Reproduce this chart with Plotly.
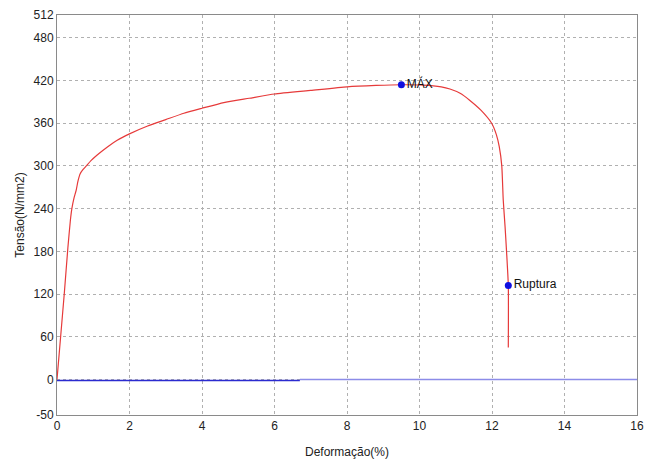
import plotly.graph_objects as go

# Stress-strain curve
strain = [0, 0.1, 0.2, 0.3, 0.37, 0.41, 0.47, 0.53, 0.58, 0.64, 0.72, 0.81, 0.95, 1.15, 1.4,
          1.66, 2.0, 2.5, 3.0, 3.5, 4.0, 4.6, 5.3, 6.0, 7.0, 8.0, 8.8, 9.5, 10.1, 10.6,
          10.84, 11.12, 11.39, 11.7, 11.99, 12.12, 12.2, 12.27, 12.31, 12.36, 12.4, 12.45,
          12.45]
stress = [0, 60, 120, 185, 224, 240, 255, 266, 279, 289, 295, 300, 308, 317, 327,
          336, 345, 356, 365, 374, 381, 389, 395, 401, 406, 411, 413, 414, 413.5, 411,
          408, 402, 392, 378, 360, 344, 327, 300, 252, 215, 181, 132,
          45]

# Baseline segments
base1_x = [0, 6.7]
base1_y = [-1.5, -1.5]
base2_x = [6.7, 16]
base2_y = [0, 0]

# Labeled points
pt_x = [9.5, 12.45]
pt_y = [414, 132]
pt_labels = ["MÁX", "Ruptura"]

y_ticks = [-50, 0, 60, 120, 180, 240, 300, 360, 420, 480, 512]
x_ticks = [0, 2, 4, 6, 8, 10, 12, 14, 16]

fig = go.Figure()
fig.add_trace(go.Scatter(x=base1_x, y=base1_y, mode="lines",
                         line=dict(color="#2b2bd0", width=1.5), hoverinfo="skip"))
fig.add_trace(go.Scatter(x=base2_x, y=base2_y, mode="lines",
                         line=dict(color="#8c8ce8", width=1.5), hoverinfo="skip"))
fig.add_trace(go.Scatter(x=strain, y=stress, mode="lines",
                         line=dict(color="#e63a3a", width=1.2, shape="spline", smoothing=0.5)))
fig.add_trace(go.Scatter(x=pt_x, y=pt_y, mode="markers+text", text=pt_labels,
                         textposition="middle right",
                         textfont=dict(family="Liberation Sans, Arial", size=12, color="#111"),
                         marker=dict(color="#1010e0", size=7)))

axis_common = dict(
    showline=True, linecolor="#8a8a8a", linewidth=1, mirror=True,
    showgrid=True, gridcolor="#b0b0b0", griddash="dot", gridwidth=1,
    zeroline=False, ticks="", automargin=False,
    tickfont=dict(family="Liberation Sans, Arial", size=12, color="#222"),
)

fig.update_layout(
    width=645, height=461,
    margin=dict(l=57, r=8, t=15, b=46),
    paper_bgcolor="white", plot_bgcolor="white",
    showlegend=False,
    font=dict(family="Liberation Sans, Arial", size=12, color="#222"),
    xaxis=dict(range=[0, 16], tickvals=x_ticks, ticktext=[str(v) for v in x_ticks],
               title=dict(text="Deformação(%)", standoff=15, font=dict(size=12)),
               **axis_common),
    yaxis=dict(range=[-50, 512], tickvals=y_ticks, ticktext=[str(v) for v in y_ticks],
               title=dict(text="Tensão(N/mm2)", standoff=6, font=dict(size=12)),
               **axis_common),
)

# Remove the default page margin so the figure fills the window exactly.
fig.write_html(
    "out.html",
    config={"displayModeBar": False},
    post_script="document.body.style.margin='0';document.body.style.overflow='hidden';",
)
